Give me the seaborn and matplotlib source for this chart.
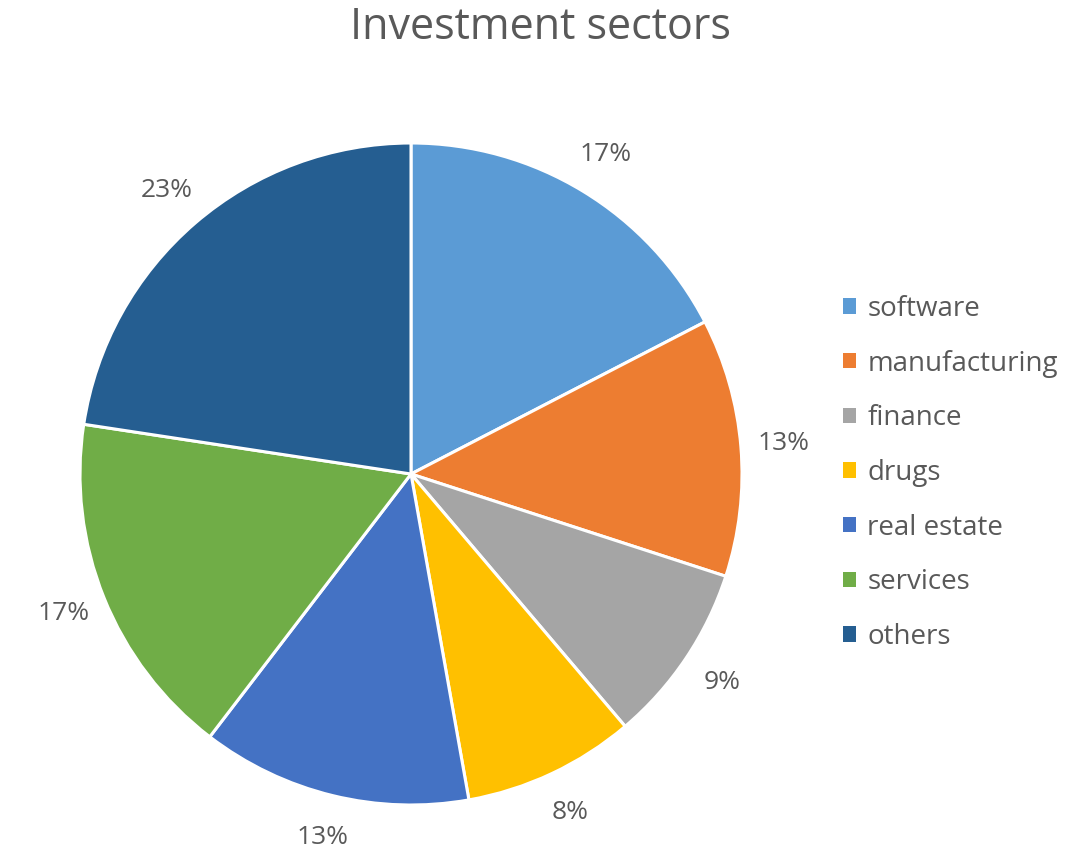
import matplotlib
matplotlib.use("Agg")
import matplotlib.pyplot as plt
import seaborn as sns
from matplotlib.patches import Patch

sectors = ['software', 'manufacturing', 'finance', 'drugs', 'real estate', 'services', 'others']
shares = [17.4, 12.6, 8.8, 8.4, 13.2, 17.0, 22.6]
colors = ['#5B9BD5', '#ED7D31', '#A5A5A5', '#FFC000', '#4472C4', '#70AD47', '#255E91']

sns.set_theme(style='white')
plt.rcParams['font.family'] = ['Open Sans', 'DejaVu Sans']
text_color = '#595959'

fig = plt.figure(figsize=(10.81, 8.52), dpi=100)
ax = fig.add_axes([80 / 1081, 47 / 852, 662 / 1081, 662 / 852])

wedges, texts, autotexts = ax.pie(
    shares, colors=colors, startangle=90, counterclock=False,
    autopct='%1.0f%%', pctdistance=1.13,
    wedgeprops=dict(edgecolor='white', linewidth=2.2),
    textprops=dict(color=text_color, fontsize=19))
ax.set_xlim(-1, 1)
ax.set_ylim(-1, 1)
ax.set_aspect('equal')
ax.axis('off')

fig.text(540 / 1081, 1 - 28 / 852, 'Investment sectors', ha='center', va='center',
         fontsize=31, color=text_color)

handles = [Patch(facecolor=c, edgecolor='none') for c in colors]
fig.legend(handles, sectors, loc='center left', bbox_to_anchor=(843 / 1081, 1 - 473 / 852),
           frameon=False, fontsize=20, labelcolor=text_color, borderpad=0, borderaxespad=0,
           handlelength=0.47, handleheight=0.47, handletextpad=0.4, labelspacing=0.96)

fig.savefig('out.png', dpi=100)
